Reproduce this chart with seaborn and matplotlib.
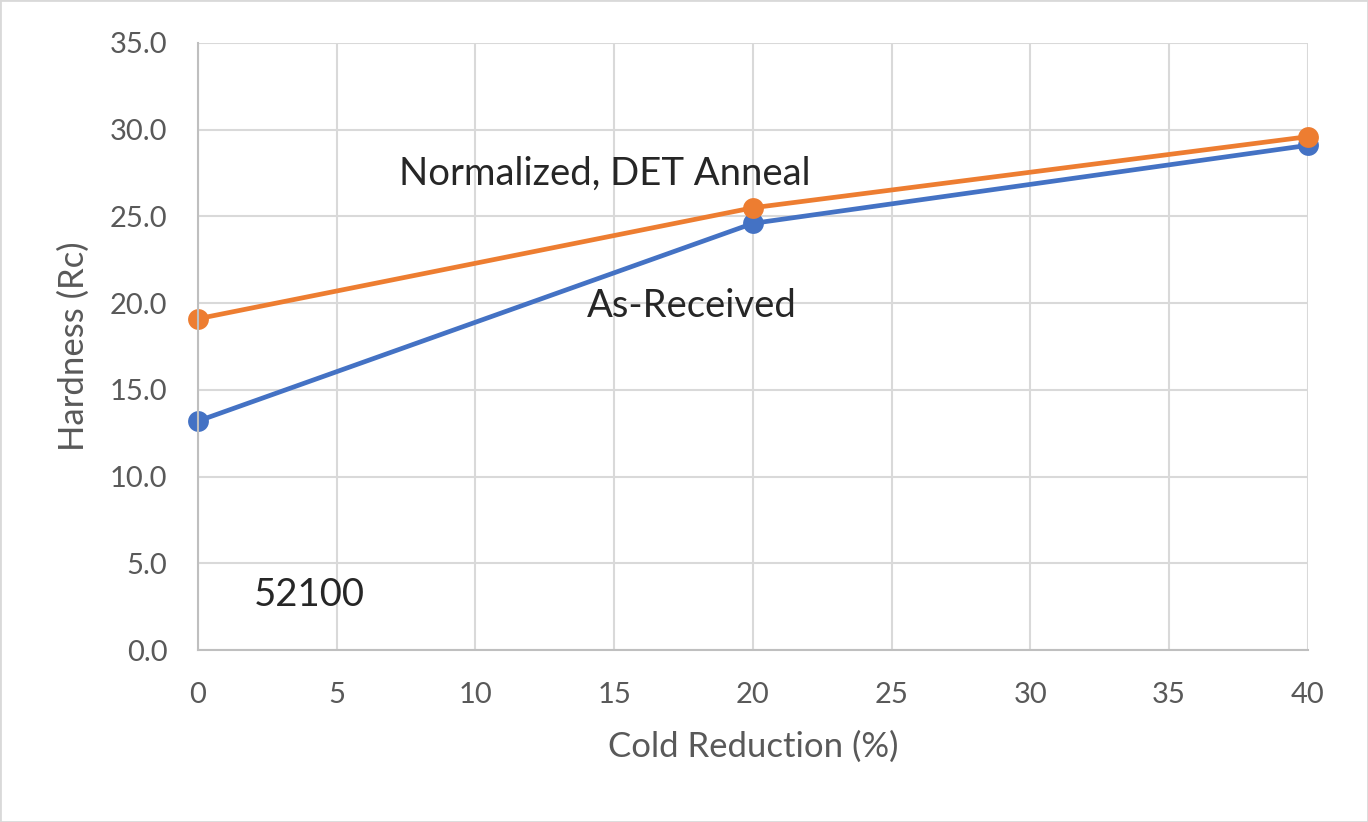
import pandas as pd
import seaborn as sns
import matplotlib.pyplot as plt
from matplotlib.ticker import FormatStrFormatter

reduction = [0, 20, 40]
as_received = [13.2, 24.6, 29.1]
normalized = [19.1, 25.5, 29.6]

df = pd.DataFrame({
    'reduction': reduction * 2,
    'hardness': as_received + normalized,
    'series': ['As-Received'] * 3 + ['Normalized, DET Anneal'] * 3,
})

sns.set_style('white')
plt.rcParams['font.family'] = ['Lato', 'DejaVu Sans']

fig = plt.figure(figsize=(13.68, 8.22), dpi=100)
ax = fig.add_axes([0.1447, 0.2092, 0.8114, 0.7385])

sns.lineplot(
    data=df, x='reduction', y='hardness', hue='series',
    palette=['#4472C4', '#ED7D31'], marker='o', markersize=15,
    markeredgewidth=0, linewidth=3.4, legend=False, ax=ax, clip_on=False,
)

ax.set_xlim(0, 40)
ax.set_ylim(0, 35)
ax.set_xticks(range(0, 41, 5))
ax.set_yticks(range(0, 36, 5))
ax.yaxis.set_major_formatter(FormatStrFormatter('%.1f'))
ax.grid(True, color='#d9d9d9', linewidth=1.5)
ax.set_axisbelow(True)
for side in ['top', 'right']:
    ax.spines[side].set_visible(False)
for side in ['left', 'bottom']:
    ax.spines[side].set_color('#bfbfbf')
    ax.spines[side].set_linewidth(1.5)
ax.tick_params(length=0, labelsize=21, labelcolor='#595959')
ax.tick_params(axis='x', pad=23)
ax.tick_params(axis='y', pad=22)
ax.set_xlabel('Cold Reduction (%)', fontsize=25, color='#595959', labelpad=16)
ax.set_ylabel('Hardness (Rc)', fontsize=25, color='#595959', labelpad=14)

ax.text(14.67, 27.45, 'Normalized, DET Anneal', fontsize=27.5, ha='center', va='center')
ax.text(17.8, 19.84, 'As-Received', fontsize=27.5, ha='center', va='center')
ax.text(4.0, 3.17, '52100', fontsize=27.5, ha='center', va='center')

fig.patches.append(plt.Rectangle((0, 0), 1, 1, transform=fig.transFigure,
                                 fill=False, edgecolor='#d9d9d9', linewidth=2))

plt.savefig('out.png', dpi=100)
